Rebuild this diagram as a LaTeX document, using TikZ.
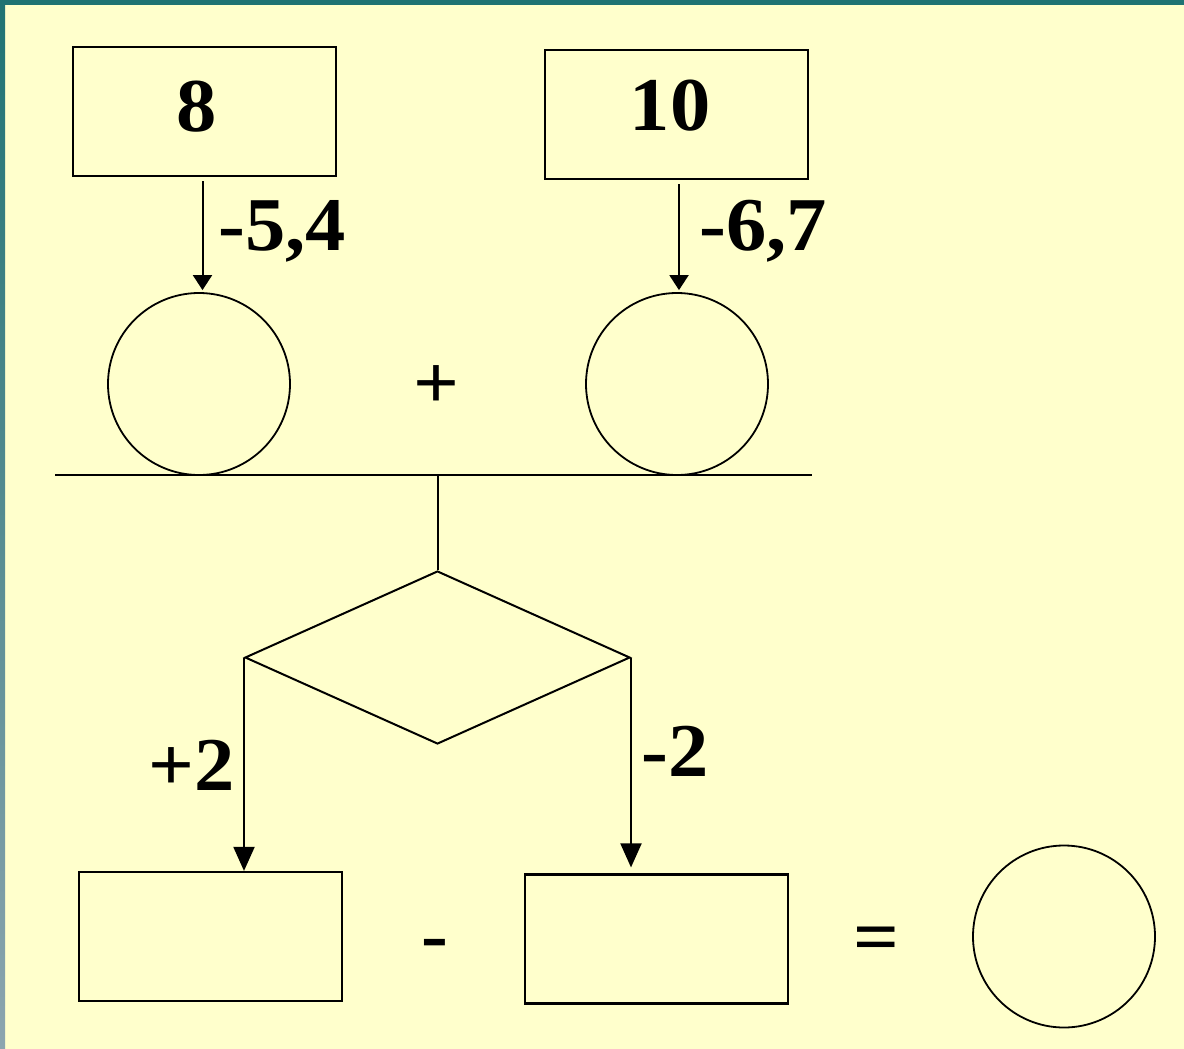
\documentclass[tikz,border=0pt]{standalone}
\usepackage{fontspec}
\setmainfont{Liberation Serif}[FakeStretch=1.06]
\usetikzlibrary{shapes.geometric,arrows.meta,calc}
\definecolor{bgyellow}{RGB}{255,255,204}
\definecolor{bandteal}{RGB}{31,115,115}
\definecolor{bandgray}{RGB}{140,165,175}
\tikzset{
  box/.style={draw, line width=2.2pt, minimum width=263pt, minimum height=129pt, inner sep=0pt},
  ring/.style={draw, circle, line width=1.8pt, minimum size=182pt, inner sep=0pt},
  lab/.style={inner sep=0pt, font=\bfseries\fontsize{76}{86}\selectfont},
  conn/.style={line width=2pt},
  smallarrow/.style={conn, -{Triangle[length=15pt,width=19pt]}},
  bigarrow/.style={conn, -{Triangle[length=24pt,width=21pt]}},
}
\begin{document}
\begin{tikzpicture}[x=1pt,y=-1pt]
\useasboundingbox (0,0) rectangle (1184,1049);
\fill[bgyellow] (0,0) rectangle (1184,1049);
\shade[top color=bandteal, bottom color=bandgray] (0,0) rectangle (5,1049);
\fill[bandteal] (0,0) rectangle (1184,5);

\node[box] (b1) at (204.5,111.5) {};
\node[box] (b2) at (676.5,114.5) {};
\node[lab] (t1) at (197,107) {8};
\node[lab] (t2) at (670,106) {10};
\node[ring] (c1) at (199,384) {};
\node[ring] (c2) at (677,384) {};
\node[lab] (plus) at (436,387) {+};

\draw[smallarrow] ([xshift=-2pt,yshift=-4pt]b1.south) -- ([xshift=-2pt,yshift=2pt]b1.south |- c1.north);
\draw[smallarrow] ([xshift=2.5pt,yshift=-4pt]b2.south) -- ([xshift=2.5pt,yshift=2pt]b2.south |- c2.north);
\node[lab, anchor=base west] (l1) at (218,250) {-5,4};
\node[lab, anchor=base west] (l2) at (699,250) {-6,7};

\coordinate (hl) at (55,475);
\coordinate (hr) at (812,475);
\draw[conn] (hl) -- (hr);

\node[draw, diamond, line width=2pt, minimum width=385pt, minimum height=173pt, inner sep=0pt] (dia) at (437.5,657.5) {};
\draw[conn] (dia.north |- hl) -- (dia.north);

\node[box] (b3) at (210.5,936.5) {};
\node[box] (b4) at (656.5,939) {};
\draw[bigarrow] (dia.west) -- (dia.west |- b3.north);
\draw[bigarrow] (dia.east) -- ([yshift=6pt]dia.east |- b4.north);
\node[lab, anchor=base west] (l3) at (148,790) {+2};
\node[lab, anchor=base west] (l4) at (641,776) {-2};

\node[lab] (minus) at (435,950) {-};
\node[lab] (eq) at (876,945) {=};
\node[ring] (c3) at (1064,936.5) {};
\end{tikzpicture}
\end{document}
